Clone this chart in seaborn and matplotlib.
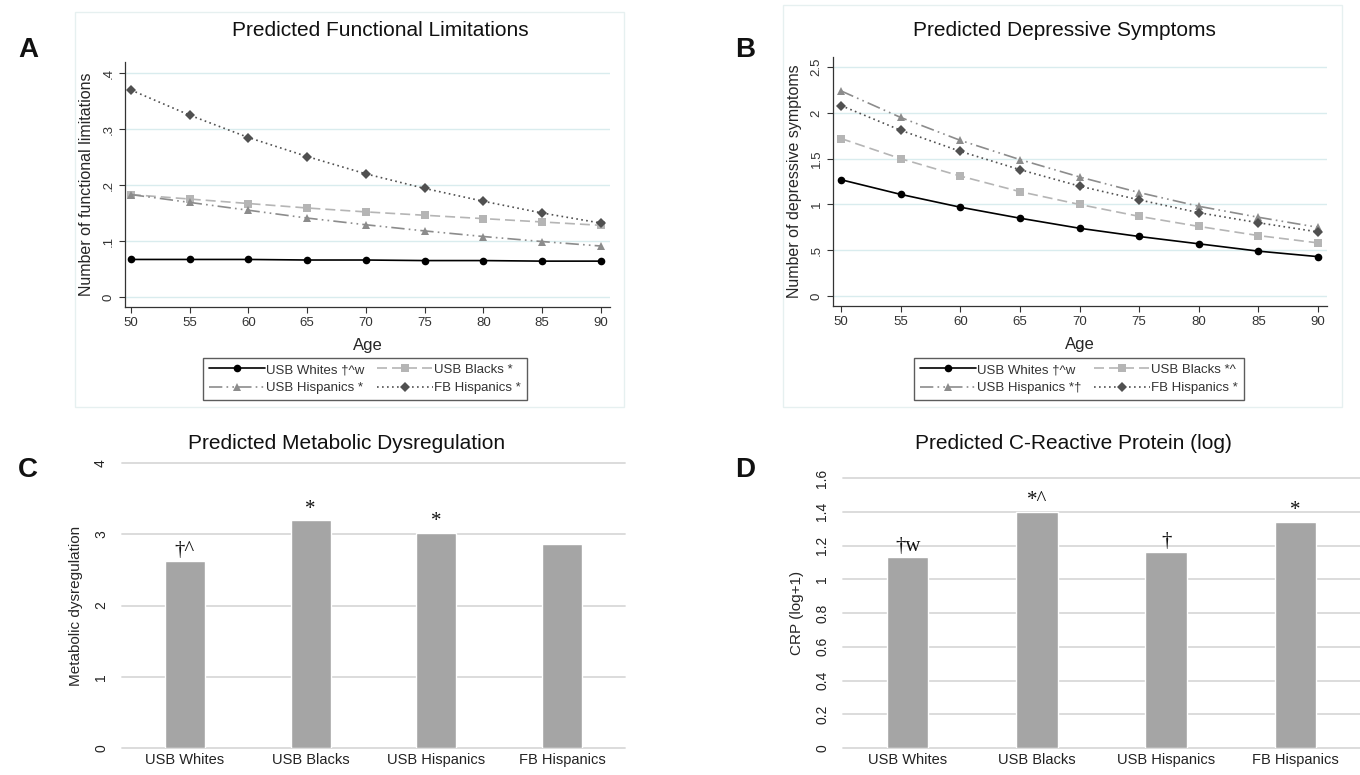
import matplotlib
matplotlib.use("Agg")
import matplotlib.pyplot as plt
import seaborn as sns
import pandas as pd
import numpy as np
from matplotlib.patches import Rectangle

sns.set_theme(style="white")
plt.rcParams['font.family'] = ['Liberation Sans', 'DejaVu Sans']

# ---------------- data ----------------
ages = [50, 55, 60, 65, 70, 75, 80, 85, 90]
groups = ["USB Whites", "USB Blacks", "USB Hispanics", "FB Hispanics"]

func_whites = [0.067, 0.067, 0.067, 0.066, 0.066, 0.065, 0.065, 0.064, 0.064]
func_blacks = [0.183, 0.175, 0.167, 0.159, 0.152, 0.146, 0.140, 0.134, 0.128]
func_usbhisp = [0.183, 0.169, 0.155, 0.141, 0.129, 0.118, 0.108, 0.099, 0.091]
func_fbhisp = [0.370, 0.325, 0.285, 0.251, 0.220, 0.194, 0.171, 0.150, 0.132]

dep_whites = [1.27, 1.11, 0.97, 0.85, 0.74, 0.65, 0.57, 0.49, 0.43]
dep_blacks = [1.72, 1.50, 1.31, 1.14, 1.00, 0.87, 0.76, 0.66, 0.58]
dep_usbhisp = [2.24, 1.95, 1.70, 1.49, 1.30, 1.13, 0.98, 0.86, 0.75]
dep_fbhisp = [2.08, 1.81, 1.58, 1.38, 1.20, 1.05, 0.91, 0.80, 0.70]

metab = [2.62, 3.20, 3.02, 2.86]
crp = [1.13, 1.40, 1.16, 1.34]

metab_marks = ["\u2020^", "*", "*", ""]
crp_marks = ["\u2020w", "*^", "\u2020", "*"]

legend_A = ["USB Whites \u2020^w", "USB Blacks *", "USB Hispanics *", "FB Hispanics *"]
legend_B = ["USB Whites \u2020^w", "USB Blacks *^", "USB Hispanics *\u2020", "FB Hispanics *"]

func_ticks = [0, 0.1, 0.2, 0.3, 0.4]
func_ticklabels = ["0", ".1", ".2", ".3", ".4"]
dep_ticks = [0, 0.5, 1, 1.5, 2, 2.5]
dep_ticklabels = ["0", ".5", "1", "1.5", "2", "2.5"]
metab_ticks = [0, 1, 2, 3, 4]
crp_ticks = [0, 0.2, 0.4, 0.6, 0.8, 1.0, 1.2, 1.4, 1.6]
crp_ticklabels = ["0", "0.2", "0.4", "0.6", "0.8", "1", "1.2", "1.4", "1.6"]

# ---------------- styles ----------------
palette = {"USB Whites": "#000000", "USB Blacks": "#b5b5b5",
           "USB Hispanics": "#8c8c8c", "FB Hispanics": "#505050"}
dashes = {"USB Whites": "", "USB Blacks": (6, 3),
          "USB Hispanics": (8, 2.5, 1, 2.5, 1, 2.5), "FB Hispanics": (1, 2)}
markers = {"USB Whites": "o", "USB Blacks": "s",
           "USB Hispanics": "^", "FB Hispanics": "D"}

W, H = 1360, 775
fig = plt.figure(figsize=(W / 100, H / 100), dpi=100)
fig.patch.set_facecolor("white")


def ax_px(l, t, r, b):
    return fig.add_axes([l / W, 1 - b / H, (r - l) / W, (b - t) / H])


def frame_px(l, t, r, b):
    fig.patches.append(Rectangle((l / W, 1 - b / H), (r - l) / W, (b - t) / H,
                                 transform=fig.transFigure, fill=False,
                                 edgecolor="#e6f0f0", linewidth=1.0, zorder=0))


def title_px(text, x, y):
    fig.text(x / W, 1 - y / H, text, fontsize=15, ha="center", va="center",
             color="#111111")


def line_panel(ax, series, yticks, yticklabels, ylim, xlim, ylabel):
    df = pd.DataFrame({
        "Age": ages * 4,
        "value": sum(series, []),
        "group": sum([[g] * len(ages) for g in groups], []),
    })
    sns.lineplot(data=df, x="Age", y="value", hue="group", style="group",
                 hue_order=groups, style_order=groups, palette=palette,
                 dashes=dashes, markers=markers, markersize=5.5,
                 markeredgewidth=0, linewidth=1.2, ax=ax)
    ax.set_xlim(*xlim)
    ax.set_ylim(*ylim)
    ax.set_xticks(ages)
    ax.set_yticks(yticks)
    ax.set_yticklabels(yticklabels, rotation=90, va="center")
    ax.tick_params(axis="both", labelsize=9.5, length=4, width=0.8,
                   colors="#333333", left=True, bottom=True)
    for y in yticks:
        ax.axhline(y, color="#d9ecee", linewidth=1.0, zorder=0)
    for s in ["top", "right"]:
        ax.spines[s].set_visible(False)
    for s in ["left", "bottom"]:
        ax.spines[s].set_color("#333333")
        ax.spines[s].set_linewidth(0.9)
    ax.set_xlabel("Age", fontsize=12, labelpad=6)
    ax.set_ylabel(ylabel, fontsize=11.5, labelpad=6)
    handles, _ = ax.get_legend_handles_labels()
    ax.get_legend().remove()
    return handles[-4:]


def make_legend(handles, labels, cx, cy):
    # row-major order: Whites, Blacks / USB Hispanics, FB Hispanics
    order = [0, 2, 1, 3]
    leg = fig.legend([handles[i] for i in order], [labels[i] for i in order],
                     ncol=2, loc="center", bbox_to_anchor=(cx / W, 1 - cy / H),
                     fontsize=9.5, frameon=True, fancybox=False,
                     edgecolor="#333333", handlelength=4.2, columnspacing=1.0,
                     handletextpad=0.1, borderpad=0.45, labelspacing=0.45)
    leg.get_frame().set_linewidth(1.0)
    for t in leg.get_texts():
        t.set_color("#333333")
    return leg


# ---------- Panel A ----------
frame_px(75, 12, 624, 407)
axA = ax_px(125, 62, 610, 307)
hA = line_panel(axA, [func_whites, func_blacks, func_usbhisp, func_fbhisp],
                func_ticks, func_ticklabels, (-0.018, 0.42), (49.5, 90.77),
                "Number of functional limitations")
title_px("Predicted Functional Limitations", 380, 30)
make_legend(hA, legend_A, 365, 379)

# ---------- Panel B ----------
frame_px(783, 5, 1342, 407)
axB = ax_px(833, 57, 1327, 306)
hB = line_panel(axB, [dep_whites, dep_blacks, dep_usbhisp, dep_fbhisp],
                dep_ticks, dep_ticklabels, (-0.109, 2.61), (49.33, 90.75),
                "Number of depressive symptoms")
title_px("Predicted Depressive Symptoms", 1064, 30)
make_legend(hB, legend_B, 1079, 379)


def bar_panel(ax, values, yticks, yticklabels, ylim, ylabel, marks):
    df = pd.DataFrame({"group": groups, "value": values})
    sns.barplot(data=df, x="group", y="value", order=groups, color="#a5a5a5",
                saturation=1, width=0.32, ax=ax, zorder=3)
    ax.set_xlim(-0.5, 3.5)
    ax.set_ylim(*ylim)
    ax.set_yticks(yticks)
    ax.set_yticklabels(yticklabels, rotation=90, va="center")
    for y in yticks:
        ax.axhline(y, color="#d9d9d9", linewidth=1.3, zorder=0, clip_on=False)
    for s in ax.spines.values():
        s.set_visible(False)
    ax.tick_params(axis="both", length=0, labelsize=10.5, colors="#222222")
    ax.tick_params(axis="y", pad=10, labelsize=10)
    ax.set_xlabel("")
    ax.set_ylabel(ylabel, fontsize=11, labelpad=8)
    for i, (v, m) in enumerate(zip(values, marks)):
        if m:
            ax.annotate(m, (i, v), xytext=(0, 1), textcoords="offset points",
                        ha="center", va="bottom", fontsize=15,
                        family=["Liberation Serif", "DejaVu Serif"],
                        color="#111111", annotation_clip=False)


# ---------- Panel C ----------
axC = ax_px(122, 463, 625, 748)
bar_panel(axC, metab, metab_ticks, [str(t) for t in metab_ticks], (0, 4),
          "Metabolic dysregulation", metab_marks)
title_px("Predicted Metabolic Dysregulation", 347, 443)

# ---------- Panel D ----------
axD = ax_px(843, 478, 1360, 748)
bar_panel(axD, crp, crp_ticks, crp_ticklabels, (0, 1.6),
          "CRP (log+1)", crp_marks)
title_px("Predicted C-Reactive Protein (log)", 1073, 443)

# ---------- panel letters ----------
for letter, x, y in [("A", 18, 50), ("B", 735, 50), ("C", 18, 470), ("D", 735, 470)]:
    fig.text(x / W, 1 - y / H, letter, fontsize=20, fontweight="bold",
             ha="left", va="center", color="#111111")

fig.savefig("out.png", dpi=100, facecolor="white")
